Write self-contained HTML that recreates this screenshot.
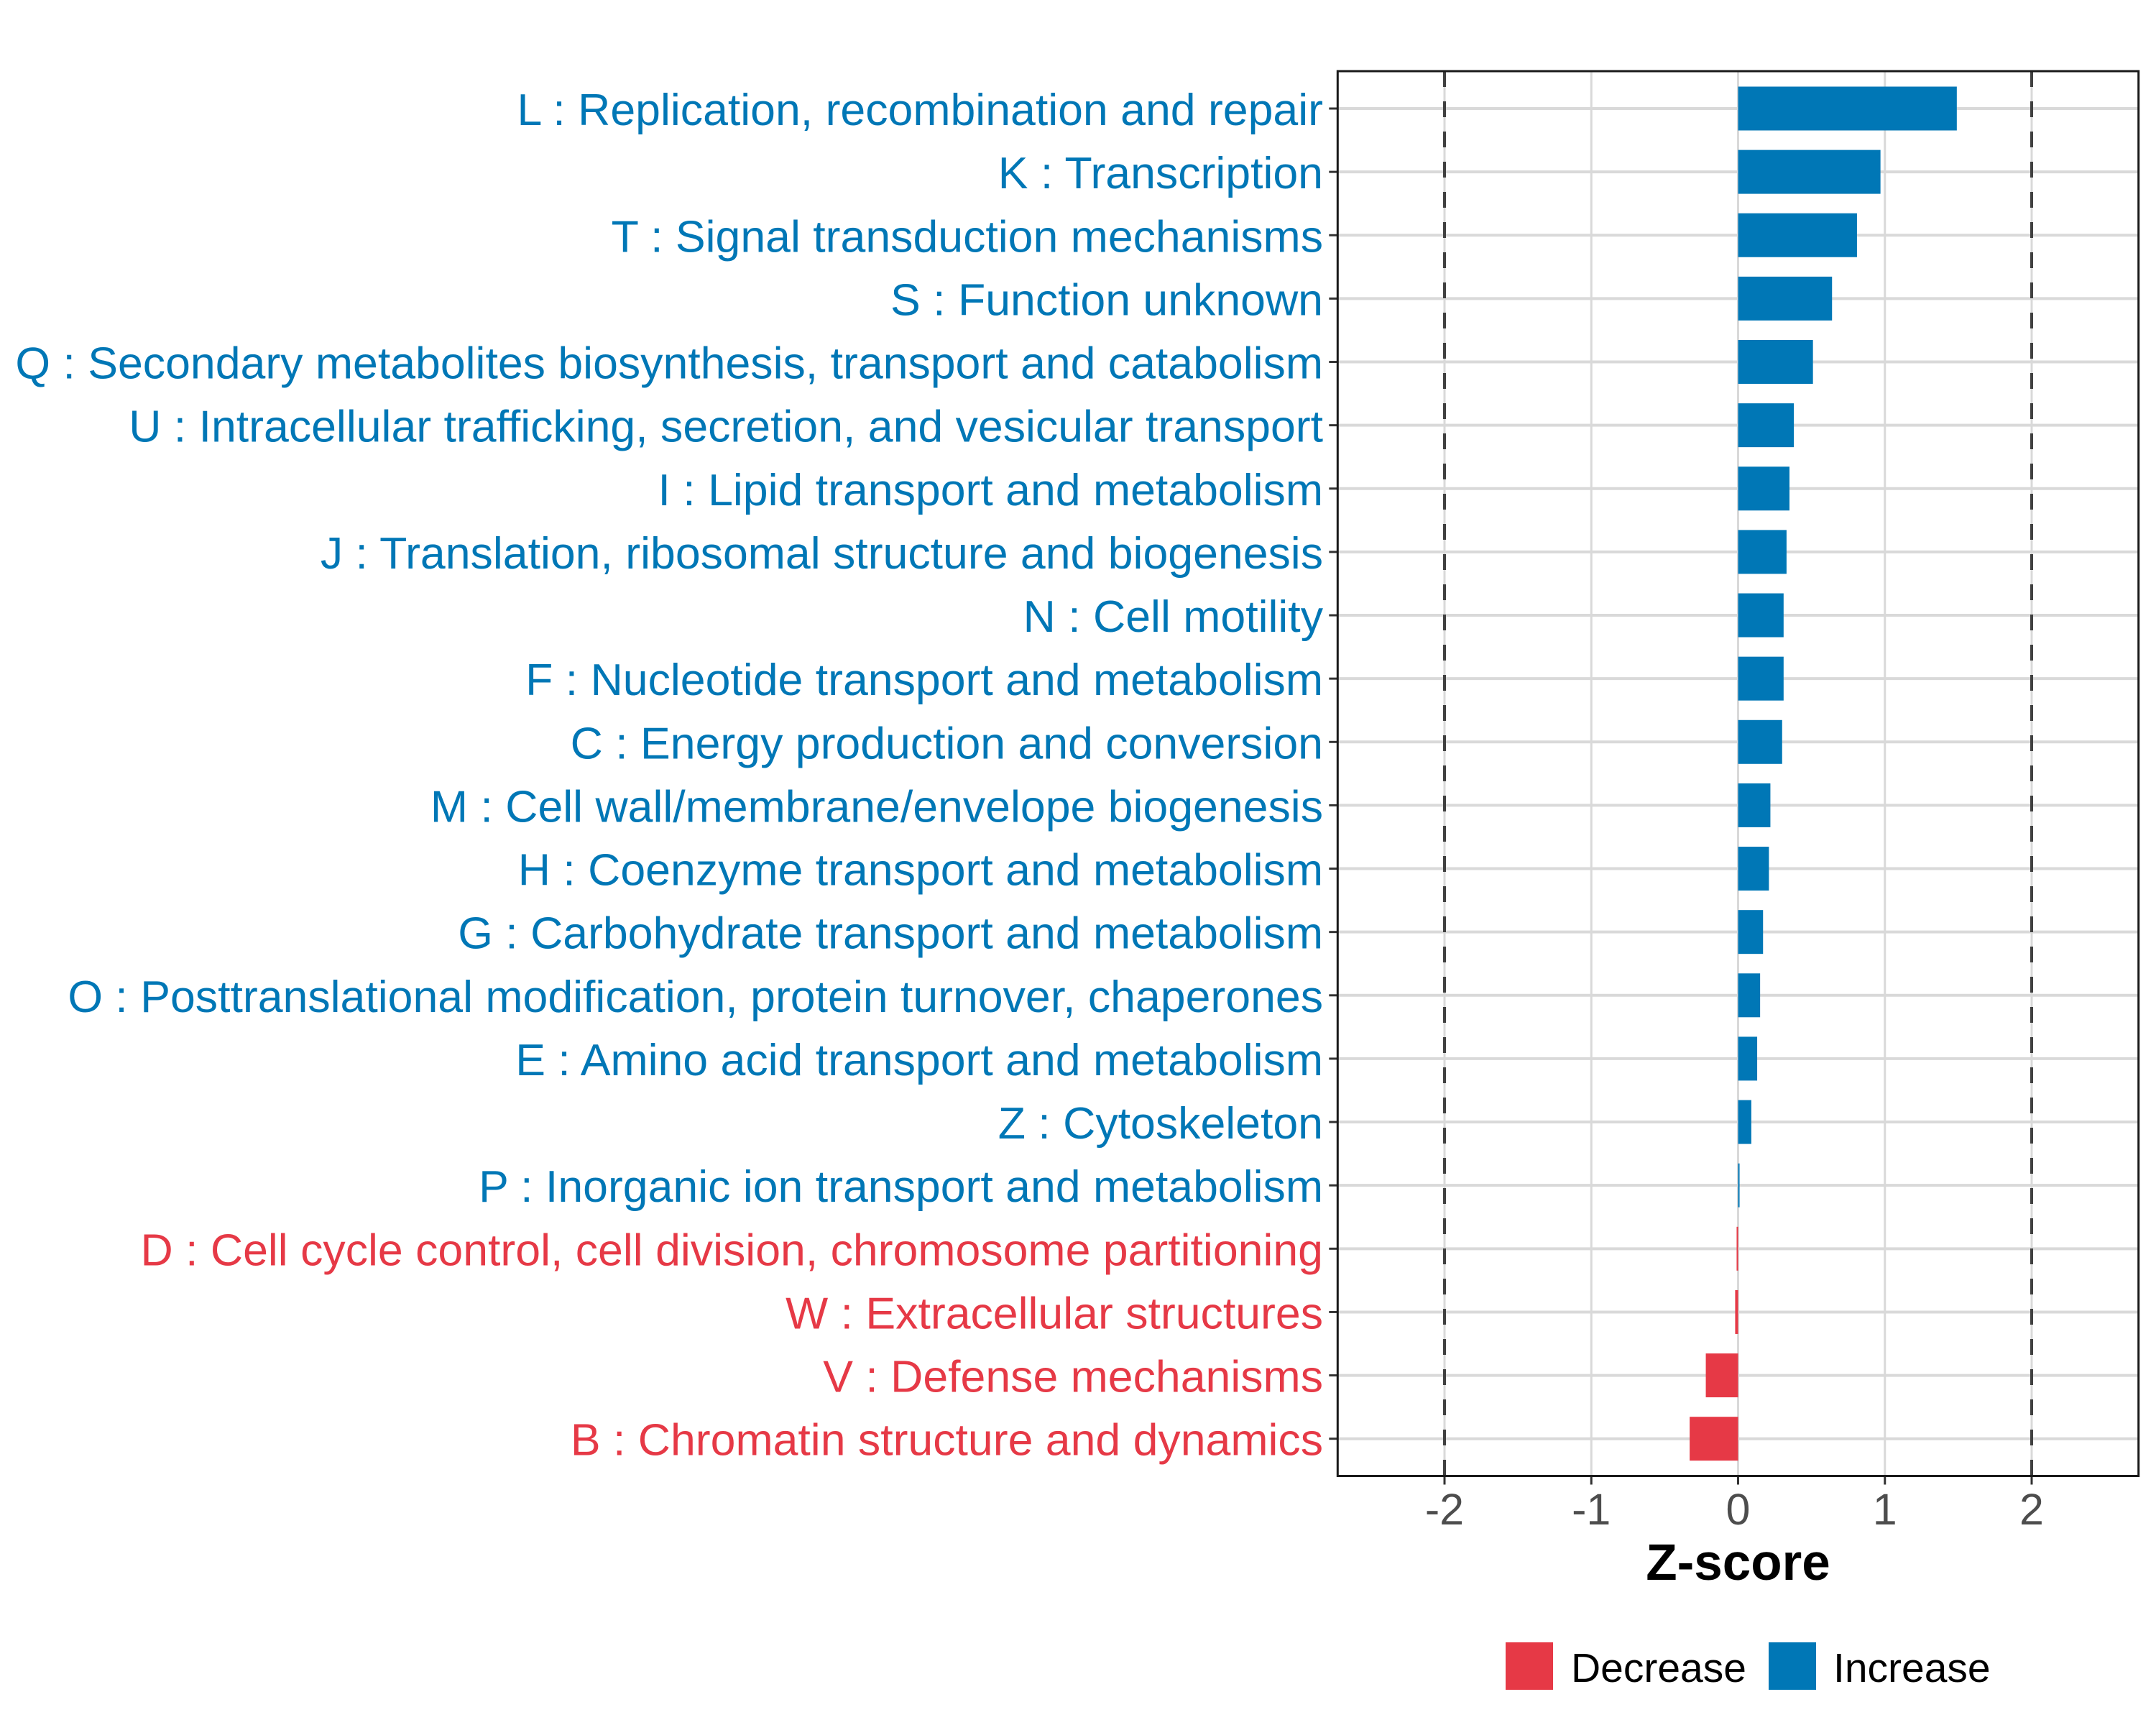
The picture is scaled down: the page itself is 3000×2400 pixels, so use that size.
<!DOCTYPE html>
<html><head><meta charset="utf-8"><style>html,body{margin:0;padding:0;background:#fff}svg{display:block}</style></head>
<body>
<svg id="chart" xmlns="http://www.w3.org/2000/svg" width="3000" height="2400" viewBox="0 0 3000 2400" font-family="'Liberation Sans', Arial, sans-serif">
<rect width="3000" height="2400" fill="#fff"/>
<g id="grid"></g>
<g id="bars"></g>
<g id="labels"></g>
<g id="xaxis"></g>
<rect x="1861.3" y="99" width="1114.4" height="1954.5" fill="none" stroke="#1a1a1a" stroke-width="3"/>
<text x="2418.5" y="2198" font-size="71" font-weight="bold" text-anchor="middle" fill="#000">Z-score</text>
<g>
<rect x="2095" y="2285" width="66" height="66" fill="#E63946"/>
<text x="2186" y="2340" font-size="57" fill="#000">Decrease</text>
<rect x="2461" y="2285" width="66" height="66" fill="#0077B6"/>
<text x="2551" y="2340" font-size="57" fill="#000">Increase</text>
</g>
<script>
const categories = ["L : Replication, recombination and repair","K : Transcription","T : Signal transduction mechanisms","S : Function unknown","Q : Secondary metabolites biosynthesis, transport and catabolism","U : Intracellular trafficking, secretion, and vesicular transport","I : Lipid transport and metabolism","J : Translation, ribosomal structure and biogenesis","N : Cell motility","F : Nucleotide transport and metabolism","C : Energy production and conversion","M : Cell wall/membrane/envelope biogenesis","H : Coenzyme transport and metabolism","G : Carbohydrate transport and metabolism","O : Posttranslational modification, protein turnover, chaperones","E : Amino acid transport and metabolism","Z : Cytoskeleton","P : Inorganic ion transport and metabolism","D : Cell cycle control, cell division, chromosome partitioning","W : Extracellular structures","V : Defense mechanisms","B : Chromatin structure and dynamics"];
const zscores = [1.49,0.97,0.81,0.64,0.51,0.38,0.35,0.33,0.31,0.31,0.30,0.22,0.21,0.17,0.15,0.13,0.09,0.01,-0.01,-0.02,-0.22,-0.33];
const xTicks = [-2,-1,0,1,2];
const xTickLabels = ["-2","-1","0","1","2"];
const thresholds = [-2,2];

const NS="http://www.w3.org/2000/svg";
const L=1861.3,R=2975.7,T=99,B=2053.5;
const xMin=-2.728,xMax=2.728;
function xs(v){return L+(v-xMin)/(xMax-xMin)*(R-L);}
const step=(2001.7-151)/(categories.length-1);
function ys(i){return 151+i*step;}
function mk(tag,attrs,parent){const e=document.createElementNS(NS,tag);for(const k in attrs)e.setAttribute(k,attrs[k]);parent.appendChild(e);return e;}
const grid=document.getElementById('grid'),bars=document.getElementById('bars'),labels=document.getElementById('labels'),xaxis=document.getElementById('xaxis');
xTicks.forEach((t,i)=>{
  const g=mk('line',{x1:xs(t),x2:xs(t),y1:T,y2:B,stroke:'#d9d9d9','stroke-width':3},grid);
  
  
  const tk=mk('line',{x1:xs(t),x2:xs(t),y1:B,y2:B+12,stroke:'#333','stroke-width':3},xaxis);
  
  
  const tx=mk('text',{x:xs(t),y:2121,'font-size':61,'text-anchor':'middle',fill:'#4d4d4d'},xaxis);
  tx.textContent=xTickLabels[i];
  
  
});
categories.forEach((c,i)=>{
  const y=ys(i);
  const g=mk('line',{x1:L,x2:R,y1:y,y2:y,stroke:'#d9d9d9','stroke-width':4},grid);
  
  
  const tk=mk('line',{x1:L-12,x2:L,y1:y,y2:y,stroke:'#333','stroke-width':3},labels);
  
  
  const v=zscores[i];
  const col=v>=0?'#0077B6':'#E63946';
  const x0=xs(Math.min(0,v)),x1=xs(Math.max(0,v));
  const r=mk('rect',{x:x0,y:y-30.5,width:Math.max(x1-x0,1.5),height:61,fill:col},bars);
  
  
  const tx=mk('text',{x:1841,y:y+23,'font-size':62.6,'text-anchor':'end',fill:col},labels);
  tx.textContent=c;
  
  
});
thresholds.forEach(t=>{
  const d=mk('line',{x1:xs(t),x2:xs(t),y1:T,y2:B,stroke:'#404040','stroke-width':4,'stroke-dasharray':'22 20'},bars);
  
  
});
</script>
</svg>
</body></html>
